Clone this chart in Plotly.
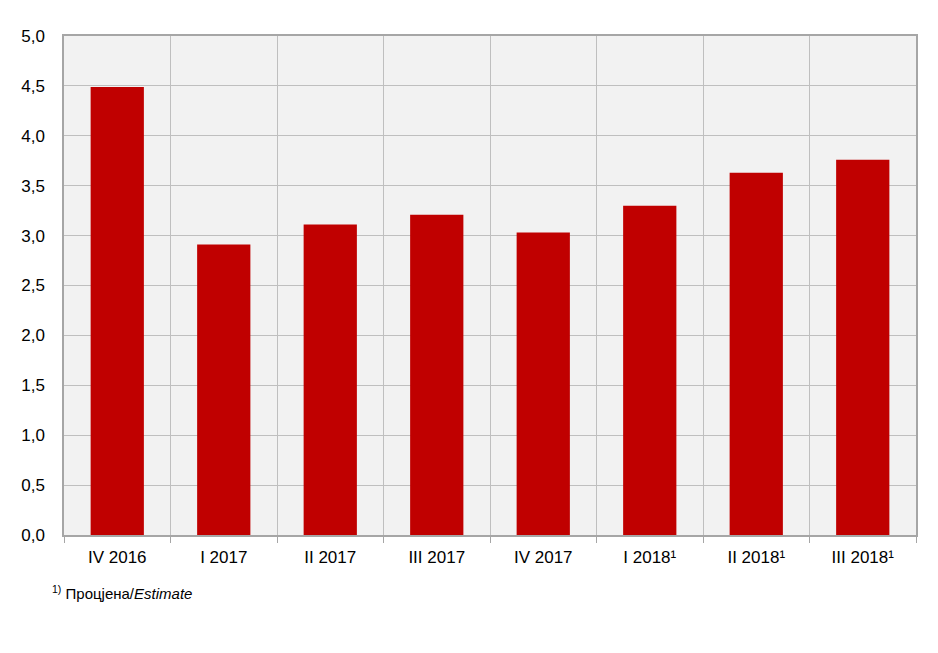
import plotly.graph_objects as go

categories = ["IV 2016", "I 2017", "II 2017", "III 2017", "IV 2017", "I 2018¹", "II 2018¹", "III 2018¹"]
values = [4.49, 2.91, 3.11, 3.21, 3.03, 3.30, 3.63, 3.76]
y_ticks = [0, 0.5, 1.0, 1.5, 2.0, 2.5, 3.0, 3.5, 4.0, 4.5, 5.0]
y_labels = ["0,0", "0,5", "1,0", "1,5", "2,0", "2,5", "3,0", "3,5", "4,0", "4,5", "5,0"]

font_fam = "Liberation Sans, Arial, sans-serif"

fig = go.Figure(go.Bar(x=categories, y=values, marker=dict(color="#C00000", line=dict(width=0)),
                       hoverinfo="x+y"))

fig.update_layout(
    width=922, height=637,
    margin=dict(l=56, r=12, t=28, b=110),
    paper_bgcolor="white", plot_bgcolor="#F2F2F2",
    bargap=0.5, showlegend=False,
    font=dict(family=font_fam, size=17, color="#000000"),
)
fig.update_xaxes(type="category", tickson="boundaries", showgrid=True, gridcolor="#BFBFBF", gridwidth=1,
                 showline=True, linecolor="#A6A6A6", linewidth=1.5, mirror=True,
                 ticks="outside", ticklen=6, tickcolor="#A6A6A6", ticklabelstandoff=6,
                 tickfont=dict(family=font_fam, size=17))
fig.update_yaxes(range=[0, 5.0], tickvals=y_ticks, ticktext=y_labels, showgrid=True, gridcolor="#BFBFBF",
                 gridwidth=1, showline=True, linecolor="#A6A6A6", linewidth=1.5, mirror=True,
                 zeroline=False, ticks="", ticklabelstandoff=14, tickfont=dict(family=font_fam, size=17))

fig.add_annotation(xref="paper", yref="paper", x=-0.0164, y=-0.116, xanchor="left", yanchor="middle",
                   text="<sup>1)</sup> Процјена/<i>Estimate</i>", showarrow=False,
                   font=dict(family=font_fam, size=15, color="#000000"))

fig.write_html("out.html")
